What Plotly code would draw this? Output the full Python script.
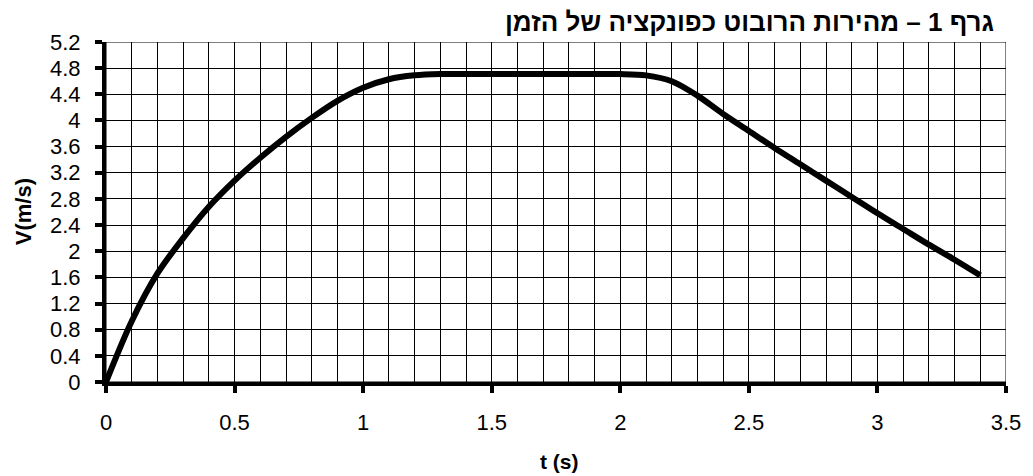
import plotly.graph_objects as go

# time (s) and speed (m/s)
t_s = [0, 0.1, 0.2, 0.3, 0.4, 0.5, 0.6, 0.7, 0.8, 0.9, 1.0, 1.1, 1.2, 1.3,
       1.5, 1.7, 1.9, 2.0, 2.1, 2.2, 2.3, 2.4, 2.5, 2.6, 2.7, 2.8, 2.9, 3.0, 3.1, 3.2, 3.3, 3.4]
v_ms = [0, 0.93, 1.66, 2.2, 2.68, 3.08, 3.43, 3.75, 4.04, 4.3, 4.5, 4.63, 4.69, 4.71,
        4.71, 4.71, 4.71, 4.71, 4.69, 4.6, 4.38, 4.1, 3.84, 3.58, 3.33, 3.08, 2.83, 2.58, 2.34, 2.1, 1.87, 1.63]

titulo = "גרף 1 – מהירות הרובוט כפונקציה של הזמן"
FONT = "Liberation Sans, Arial, sans-serif"

fig = go.Figure()
fig.add_trace(go.Scatter(
    x=t_s,
    y=v_ms,
    mode="lines",
    line=dict(color="black", width=6, shape="spline", smoothing=0.9),
    hoverinfo="skip",
))

# thin frame on top / right
fig.add_shape(type="rect", xref="x", yref="y", x0=0, x1=3.5, y0=0, y1=5.2,
              line=dict(color="black", width=1), layer="below")

fig.update_layout(
    width=1033,
    height=476,
    plot_bgcolor="white",
    paper_bgcolor="white",
    showlegend=False,
    font=dict(family=FONT, size=22, color="black"),
    margin=dict(l=106, r=22, t=42, b=94),
    xaxis=dict(
        range=[0, 3.5],
        dtick=0.5,
        tick0=0,
        showgrid=True,
        gridcolor="black",
        gridwidth=1,
        minor=dict(dtick=0.1, showgrid=True, gridcolor="black", gridwidth=1),
        zeroline=False,
        showline=True,
        linecolor="black",
        linewidth=4,
        ticks="outside",
        ticklen=7,
        tickwidth=4,
        tickcolor="black",
        ticklabelstandoff=11,
    ),
    yaxis=dict(
        range=[0, 5.2],
        dtick=0.4,
        tick0=0,
        showgrid=True,
        gridcolor="black",
        gridwidth=1,
        zeroline=False,
        showline=True,
        linecolor="black",
        linewidth=4,
        ticks="outside",
        ticklen=7,
        tickwidth=4,
        tickcolor="black",
        ticklabelstandoff=10,
    ),
    annotations=[
        dict(text=f"<b>{titulo}</b>", xref="paper", yref="paper", x=0.989, y=1.058,
             xanchor="right", yanchor="middle", showarrow=False,
             font=dict(family=FONT, size=26, color="black")),
        dict(text="<b>t (s)</b>", xref="paper", yref="paper", x=0.504, y=-0.234,
             xanchor="center", yanchor="middle", showarrow=False,
             font=dict(family=FONT, size=21, color="black")),
        dict(text="<b>V(m/s)</b>", xref="paper", yref="paper", x=-0.092, y=0.5,
             xanchor="center", yanchor="middle", showarrow=False, textangle=-90,
             font=dict(family=FONT, size=22, color="black")),
    ],
)

# page body has a default 8px margin; drop it so the figure sits at the top-left corner
fig.write_html("out.html", config={"displayModeBar": False},
               post_script="document.body.style.margin='0';")
